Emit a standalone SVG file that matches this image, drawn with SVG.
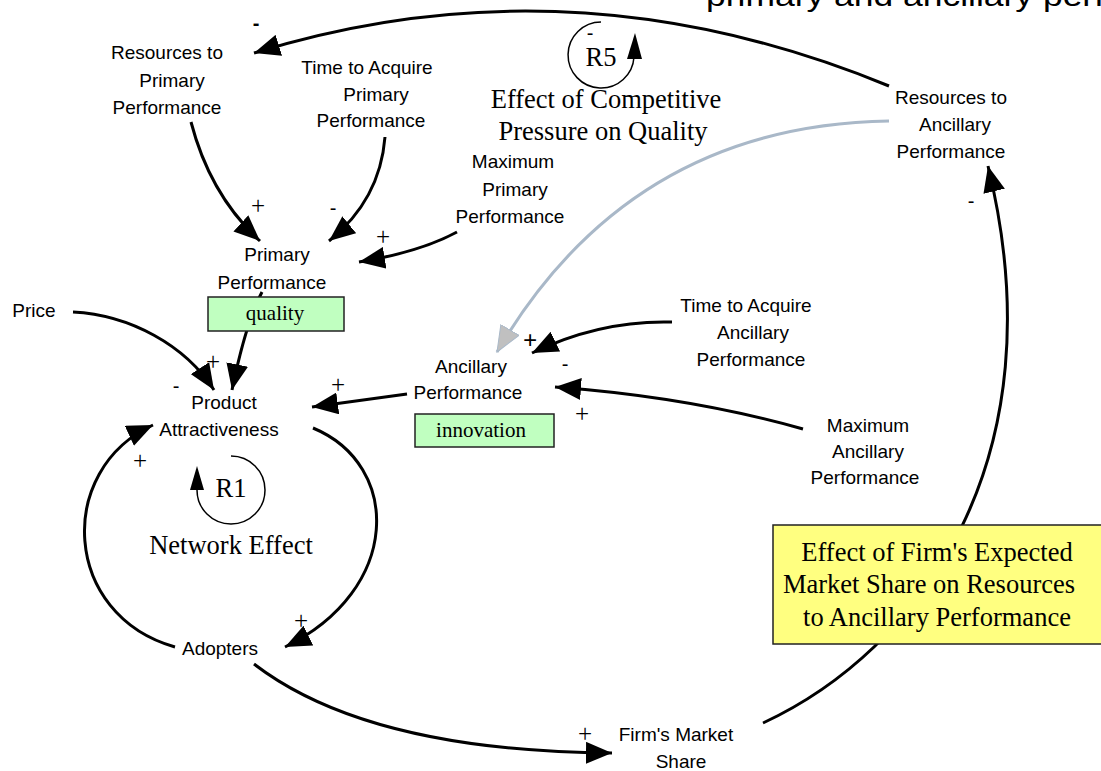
<svg xmlns="http://www.w3.org/2000/svg" width="1101" height="771" viewBox="0 0 1101 771">
<style>
.lbl{font-family:"Liberation Sans",Arial,sans-serif;font-size:19px;fill:#000;text-anchor:middle}
.ser{font-family:"Liberation Serif","Times New Roman",serif;font-size:26.5px;fill:#000;text-anchor:middle}
.box{font-family:"Liberation Serif","Times New Roman",serif;font-size:21px;fill:#000;text-anchor:middle}
.plus{font-family:"Liberation Serif","Times New Roman",serif;font-size:25px;fill:#000;text-anchor:middle}
.minus{font-family:"Liberation Sans",Arial,sans-serif;font-size:20px;fill:#000;text-anchor:middle}
.bold{font-weight:bold}
.c{fill:none;stroke:#000;stroke-width:3;marker-end:url(#ah)}
.g{fill:none;stroke:#a9b8c8;stroke-width:3;marker-end:url(#ahg)}
.loop{fill:none;stroke:#000;stroke-width:1.5}
.green{fill:#c0ffc0;stroke:#222;stroke-width:1.5}
.yellow{fill:#ffff80;stroke:#222;stroke-width:1.5}
</style>
<defs>
<marker id="ah" markerUnits="userSpaceOnUse" markerWidth="27" markerHeight="22" refX="26" refY="11" orient="auto">
<path d="M0,0 L26,11 L0,22 Z" fill="#000"/>
</marker>
<marker id="ahg" markerUnits="userSpaceOnUse" markerWidth="27" markerHeight="22" refX="26" refY="11" orient="auto">
<path d="M0.5,0.5 L26,11 L0.5,21.5 Z" fill="#c0c0c0" stroke="#a9b8c8" stroke-width="1"/>
</marker>
</defs>
<rect x="0" y="0" width="1101" height="771" fill="#fff"/>

<text id="title" x="706" y="6" font-family="Liberation Sans,Arial,sans-serif" font-size="30" textLength="398" lengthAdjust="spacingAndGlyphs">primary and ancillary perf</text>

<g id="connectors">
<path class="c" d="M889 86 Q571 -45 254 53"/>
<path class="g" d="M889 121 Q630 125 497 352"/>
<path class="c" d="M191 122 Q210 195 260 241"/>
<path class="c" d="M385 137 Q380 200 329 241"/>
<path class="c" d="M457 232 Q420 252 359 262"/>
<path class="c" d="M262 292 Q246 322 232 390"/>
<path class="c" d="M73 312 C130 315 185 345 214 390"/>
<path class="c" d="M407 394 L312 407"/>
<path class="c" d="M672 322 Q600 320 532 353"/>
<path class="c" d="M803 429 Q690 397 555 387"/>
<path class="c" d="M313 428 C402 465 402 590 285 647"/>
<path class="c" d="M175 647 C62 615 55 470 153 425"/>
<path class="c" d="M254 664 C340 730 470 752 612 753"/>
<path class="c" d="M763 723 C920 650 1060 460 988 166"/>
</g>

<g id="signs">
<text class="minus bold" x="256" y="30" font-size="22">-</text>
<text class="plus" x="258" y="214">+</text>
<text class="minus" x="333" y="215">-</text>
<text class="plus" x="383" y="245">+</text>
<text class="plus" x="213" y="370">+</text>
<text class="minus" x="176" y="393">-</text>
<text class="plus" x="338" y="393">+</text>
<text class="plus bold" x="530" y="349">+</text>
<text class="minus" x="565" y="371">-</text>
<text class="plus" x="582" y="422">+</text>
<text class="plus" x="140" y="469">+</text>
<text class="plus" x="301" y="629">+</text>
<text class="plus" x="585" y="742">+</text>
<text class="minus" x="971" y="208">-</text>
</g>

<g id="loop-R5">
<path class="loop" d="M601 22 A33 33 0 1 0 634 57"/>
<polygon points="627,59 642,59 635,33" fill="#000"/>
<text class="minus" x="590" y="40" font-size="16">-</text>
<text class="ser" x="601" y="66" font-size="25">R5</text>
<text class="ser" x="606" y="108">Effect of Competitive</text>
<text class="ser" x="603" y="140">Pressure on Quality</text>
</g>

<g id="loop-R1">
<path class="loop" d="M231 456 A34 34 0 1 1 197 490"/>
<polygon points="190,490 204,490 197,466" fill="#000"/>
<text class="ser" x="231" y="497" font-size="25">R1</text>
<text class="ser" x="231" y="554">Network Effect</text>
</g>

<g id="resources-primary">
<text class="lbl" x="167" y="59">Resources to</text>
<text class="lbl" x="172" y="87">Primary</text>
<text class="lbl" x="167" y="114">Performance</text>
</g>
<g id="time-primary">
<text class="lbl" x="367" y="74">Time to Acquire</text>
<text class="lbl" x="376" y="101">Primary</text>
<text class="lbl" x="371" y="127">Performance</text>
</g>
<g id="max-primary">
<text class="lbl" x="513" y="168">Maximum</text>
<text class="lbl" x="515" y="196">Primary</text>
<text class="lbl" x="510" y="223">Performance</text>
</g>
<g id="primary-performance">
<text class="lbl" x="277" y="261">Primary</text>
<text class="lbl" x="272" y="289">Performance</text>
</g>
<g id="quality">
<rect class="green" x="208" y="297" width="136" height="34"/>
<text class="box" x="275" y="320">quality</text>
</g>
<g id="price">
<text class="lbl" x="34" y="317">Price</text>
</g>
<g id="product-attractiveness">
<text class="lbl" x="224" y="409">Product</text>
<text class="lbl" x="219" y="436">Attractiveness</text>
</g>
<g id="ancillary-performance">
<text class="lbl" x="471" y="373">Ancillary</text>
<text class="lbl" x="468" y="399">Performance</text>
</g>
<g id="innovation">
<rect class="green" x="415" y="414" width="139" height="33"/>
<text class="box" x="481" y="437">innovation</text>
</g>
<g id="time-ancillary">
<text class="lbl" x="746" y="312">Time to Acquire</text>
<text class="lbl" x="753" y="339">Ancillary</text>
<text class="lbl" x="751" y="366">Performance</text>
</g>
<g id="max-ancillary">
<text class="lbl" x="868" y="432">Maximum</text>
<text class="lbl" x="868" y="458">Ancillary</text>
<text class="lbl" x="865" y="484">Performance</text>
</g>
<g id="resources-ancillary">
<text class="lbl" x="951" y="104">Resources to</text>
<text class="lbl" x="955" y="131">Ancillary</text>
<text class="lbl" x="951" y="158">Performance</text>
</g>
<g id="adopters">
<text class="lbl" x="220" y="655">Adopters</text>
</g>
<g id="firm-market-share">
<text class="lbl" x="676" y="741">Firm's Market</text>
<text class="lbl" x="681" y="768">Share</text>
</g>
<g id="effect-expected-share">
<rect class="yellow" x="773" y="525" width="332" height="119"/>
<text class="ser" x="937" y="561">Effect of Firm's Expected</text>
<text class="ser" x="929" y="593">Market Share on Resources</text>
<text class="ser" x="937" y="626">to Ancillary Performance</text>
</g>
</svg>
